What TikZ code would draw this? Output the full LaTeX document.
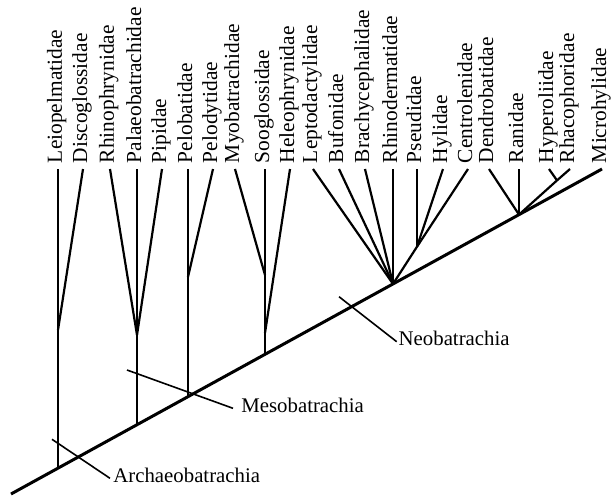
\documentclass[tikz,border=0pt]{standalone}
\usepackage{fontspec}
\setmainfont{Liberation Serif}
\usepackage{tikz}
\def\tipY{326}
\def\branchW{1.1pt}
\def\spineW{1.5pt}
\def\tickW{0.8pt}

\begin{document}
\begin{tikzpicture}[
    x=0.5pt, y=0.5pt,
    branch/.style={line width=\branchW},
    spine/.style={line width=\spineW},
    tick/.style={line width=\tickW},
    taxon/.style={rotate=90, anchor=west, inner sep=0pt, outer sep=3pt,
        text height=0.62em, text depth=0.22em, font=\fontsize{10.7}{12}\selectfont},
    clade/.style={anchor=west, inner sep=1.5pt,
        text height=0.62em, text depth=0.22em, font=\fontsize{10.4}{12}\selectfont}
]
\useasboundingbox (0,0) rectangle (611,495);

% families
\node[taxon] (leio)   at (58,\tipY)  {Leiopelmatidae};
\node[taxon] (disc)   at (83,\tipY)  {Discoglossidae};
\node[taxon] (rhino)  at (110,\tipY) {Rhinophrynidae};
\node[taxon] (palaeo) at (137,\tipY) {Palaeobatrachidae};
\node[taxon] (pipi)   at (162,\tipY) {Pipidae};
\node[taxon] (pelob)  at (188,\tipY) {Pelobatidae};
\node[taxon] (pelod)  at (213,\tipY) {Pelodytidae};
\node[taxon] (myo)    at (235,\tipY) {Myobatrachidae};
\node[taxon] (soog)   at (265,\tipY) {Sooglossidae};
\node[taxon] (heleo)  at (290,\tipY) {Heleophrynidae};
\node[taxon] (lepto)  at (313,\tipY) {Leptodactylidae};
\node[taxon] (bufo)   at (339,\tipY) {Bufonidae};
\node[taxon] (brachy) at (365,\tipY) {Brachycephalidae};
\node[taxon] (rhinod) at (393,\tipY) {Rhinodermatidae};
\node[taxon] (pseu)   at (417,\tipY) {Pseudidae};
\node[taxon] (hyli)   at (443,\tipY) {Hylidae};
\node[taxon] (centro) at (468,\tipY) {Centrolenidae};
\node[taxon] (dendro) at (489,\tipY) {Dendrobatidae};
\node[taxon] (rani)   at (519,\tipY) {Ranidae};
\node[taxon] (hyper)  at (549,\tipY) {Hyperoliidae};
\node[taxon] (rhaco)  at (570,\tipY) {Rhacophoridae};
\node[taxon] (micro)  at (602,\tipY) {Microhylidae};

% points on the spine
\coordinate (root) at (11,1);
\coordinate (s1) at (58,26.8);
\coordinate (s2) at (137,70.3);
\coordinate (s3) at (188,98.3);
\coordinate (s4) at (265,140.7);
\coordinate (s5) at (393,211.1);
\coordinate (s6) at (519,280.4);

% inner forks
\coordinate (a1) at (58,165);
\coordinate (p1) at (137,160);
\coordinate (p2) at (188,218);
\coordinate (m1) at (265,220);
\coordinate (m2) at (265,162);
\coordinate (h1) at (417,248.3);
\coordinate (r1) at (557,314.6);

\draw[spine] (root) -- (micro.west);

\draw[branch] (leio.west) -- (a1) -- (s1);
\draw[branch] (disc.west) -- (a1);
\draw[branch] (rhino.west) -- (p1);
\draw[branch] (palaeo.west) -- (p1) -- (s2);
\draw[branch] (pipi.west) -- (p1);
\draw[branch] (pelob.west) -- (p2) -- (s3);
\draw[branch] (pelod.west) -- (p2);
\draw[branch] (myo.west) -- (m1);
\draw[branch] (soog.west) -- (m1) -- (m2) -- (s4);
\draw[branch] (heleo.west) -- (m2);
\draw[branch] (lepto.west) -- (s5);
\draw[branch] (bufo.west) -- (s5);
\draw[branch] (brachy.west) -- (s5);
\draw[branch] (rhinod.west) -- (s5);
\draw[branch] (pseu.west) -- (h1);
\draw[branch] (hyli.west) -- (h1);
\draw[branch] (centro.west) -- (h1) -- (s5);
\draw[branch] (dendro.west) -- (s6);
\draw[branch] (rani.west) -- (s6);
\draw[branch] (hyper.west) -- (r1);
\draw[branch] (rhaco.west) -- (r1) -- (s6);

% clade marks
\coordinate (archT) at (52,55.7);
\coordinate (mesoT) at (127,125);
\coordinate (neoT) at (339,198.3);
\node[clade] (archaeo) at (110,16.7) {Archaeobatrachia};
\node[clade, inner xsep=4pt] (meso) at (233,86.7) {Mesobatrachia};
\node[clade, inner xsep=0.8pt] (neo) at (396.7,153.3) {Neobatrachia};
\draw[tick] (archT) -- (archaeo.west);
\draw[tick] (mesoT) -- (meso.west);
\draw[tick] (neoT) -- (neo.west);
\end{tikzpicture}
\end{document}
